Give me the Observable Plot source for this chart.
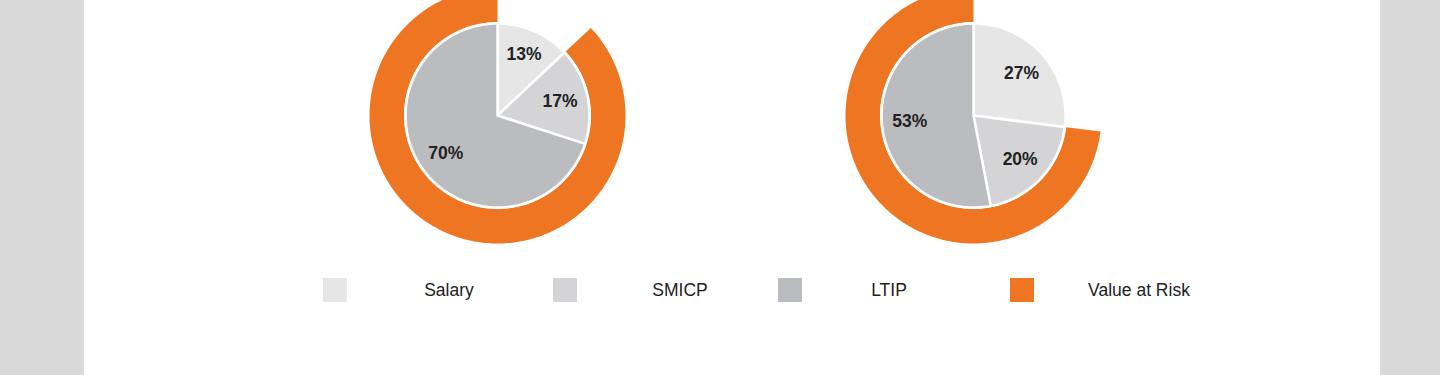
<!DOCTYPE html>
<html>
<head>
<meta charset="utf-8">
<script src="https://cdn.jsdelivr.net/npm/d3@7"></script>
<script src="https://cdn.jsdelivr.net/npm/@observablehq/plot@0.6"></script>
<style>
  html, body { margin: 0; padding: 0; }
  body {
    width: 1440px; height: 375px; overflow: hidden; position: relative;
    background: linear-gradient(to right, #d9d9d9 0px, #d9d9d9 84px, #ffffff 84px, #ffffff 1380px, #d9d9d9 1380px);
    font-family: "Liberation Sans", Arial, sans-serif;
  }
  #chart { position: absolute; left: 0; top: 0; }
  #legend { position: absolute; left: 0; top: 0; width: 1440px; height: 375px; pointer-events: none; }
  .sw { position: absolute; top: 278px; width: 24px; height: 24px; }
  .lt { position: absolute; top: 279px; font-size: 17.5px; color: #222; line-height: 22px; white-space: nowrap; transform: translateX(-50%); }
</style>
</head>
<body>
<div id="chart"></div>
<div id="legend"></div>
<script>
// ---- data ----
const charts = ["Chart A", "Chart B"];
const categories = ["Salary", "SMICP", "LTIP"];
const salary = [13, 27];
const smicp = [17, 20];
const ltip = [70, 53];
const valueAtRisk = [87, 73];
const legendLabels = ["Salary", "SMICP", "LTIP", "Value at Risk"];

// ---- styling / layout ----
const colors = {Salary: "#e6e6e7", SMICP: "#d4d4d6", LTIP: "#bbbcc0", "Value at Risk": "#ee7623"};
const centersX = [497, 973];
const centerY = 115;
const pieR = 92, ringR0 = 93.5, ringR1 = 128;
const labelR = 64;
const W = 1440, H = 375;

function arcPoints(cx, cy, r, a0, a1) {
  // angles in percent of the circle, clockwise from 12 o'clock
  const pts = [];
  const n = Math.max(2, Math.ceil(Math.abs(a1 - a0) * 3.6));
  for (let i = 0; i <= n; i++) {
    const t = (a0 + (a1 - a0) * i / n) / 100 * 2 * Math.PI;
    pts.push([cx + r * Math.sin(t), cy - r * Math.cos(t)]);
  }
  return pts;
}

const slicePts = [];
const ringPts = [];
const labels = [];
charts.forEach((c, ci) => {
  const vals = [salary[ci], smicp[ci], ltip[ci]];
  const cx = centersX[ci];
  let start = 0;
  categories.forEach((cat, k) => {
    const end = start + vals[k];
    const id = c + "-" + cat;
    slicePts.push({id, x: cx, y: centerY, fill: colors[cat]});
    for (const [x, y] of arcPoints(cx, centerY, pieR, start, end)) slicePts.push({id, x, y, fill: colors[cat]});
    slicePts.push({id, x: cx, y: centerY, fill: colors[cat]});
    const mid = (start + end) / 2 / 100 * 2 * Math.PI;
    const lr = vals[k] < 15 ? labelR + 3 : labelR;
    labels.push({x: cx + lr * Math.sin(mid), y: centerY - lr * Math.cos(mid), text: vals[k] + "%"});
    start = end;
  });
  // Value at Risk ring: from the end of Salary round to the top
  const r0 = 100 - valueAtRisk[ci];
  const id = c + "-VaR";
  const outer = arcPoints(cx, centerY, ringR1, r0, 100);
  const inner = arcPoints(cx, centerY, ringR0, 100, r0);
  for (const [x, y] of outer.concat(inner)) ringPts.push({id, x, y, fill: colors["Value at Risk"]});
});

const plot = Plot.plot({
  width: W, height: H,
  margin: 0,
  style: {background: "transparent", overflow: "visible"},
  x: {domain: [0, W], range: [0, W], axis: null},
  y: {domain: [0, H], range: [0, H], axis: null},
  color: {type: "identity"},
  marks: [
    Plot.line(ringPts, {x: "x", y: "y", z: "id", fill: "fill", stroke: "none", curve: "linear-closed"}),
    Plot.line(slicePts, {x: "x", y: "y", z: "id", fill: "fill", stroke: "white", strokeWidth: 2.5, strokeLinejoin: "miter", curve: "linear"}),
    Plot.text(labels, {x: "x", y: "y", text: "text", fill: "#222", fontSize: 17.5, fontWeight: "bold", fontFamily: "Liberation Sans, Arial, sans-serif"})
  ]
});
document.getElementById("chart").appendChild(plot);

// legend (HTML)
const legend = document.getElementById("legend");
const swLeft = [323, 553, 778, 1010];
const txtCenter = [449, 680, 889, 1139];
legendLabels.forEach((name, i) => {
  const s = document.createElement("div");
  s.className = "sw";
  s.style.left = swLeft[i] + "px";
  s.style.background = colors[name];
  legend.appendChild(s);
  const t = document.createElement("div");
  t.className = "lt";
  t.style.left = txtCenter[i] + "px";
  t.textContent = name;
  legend.appendChild(t);
});
</script>
</body>
</html>
